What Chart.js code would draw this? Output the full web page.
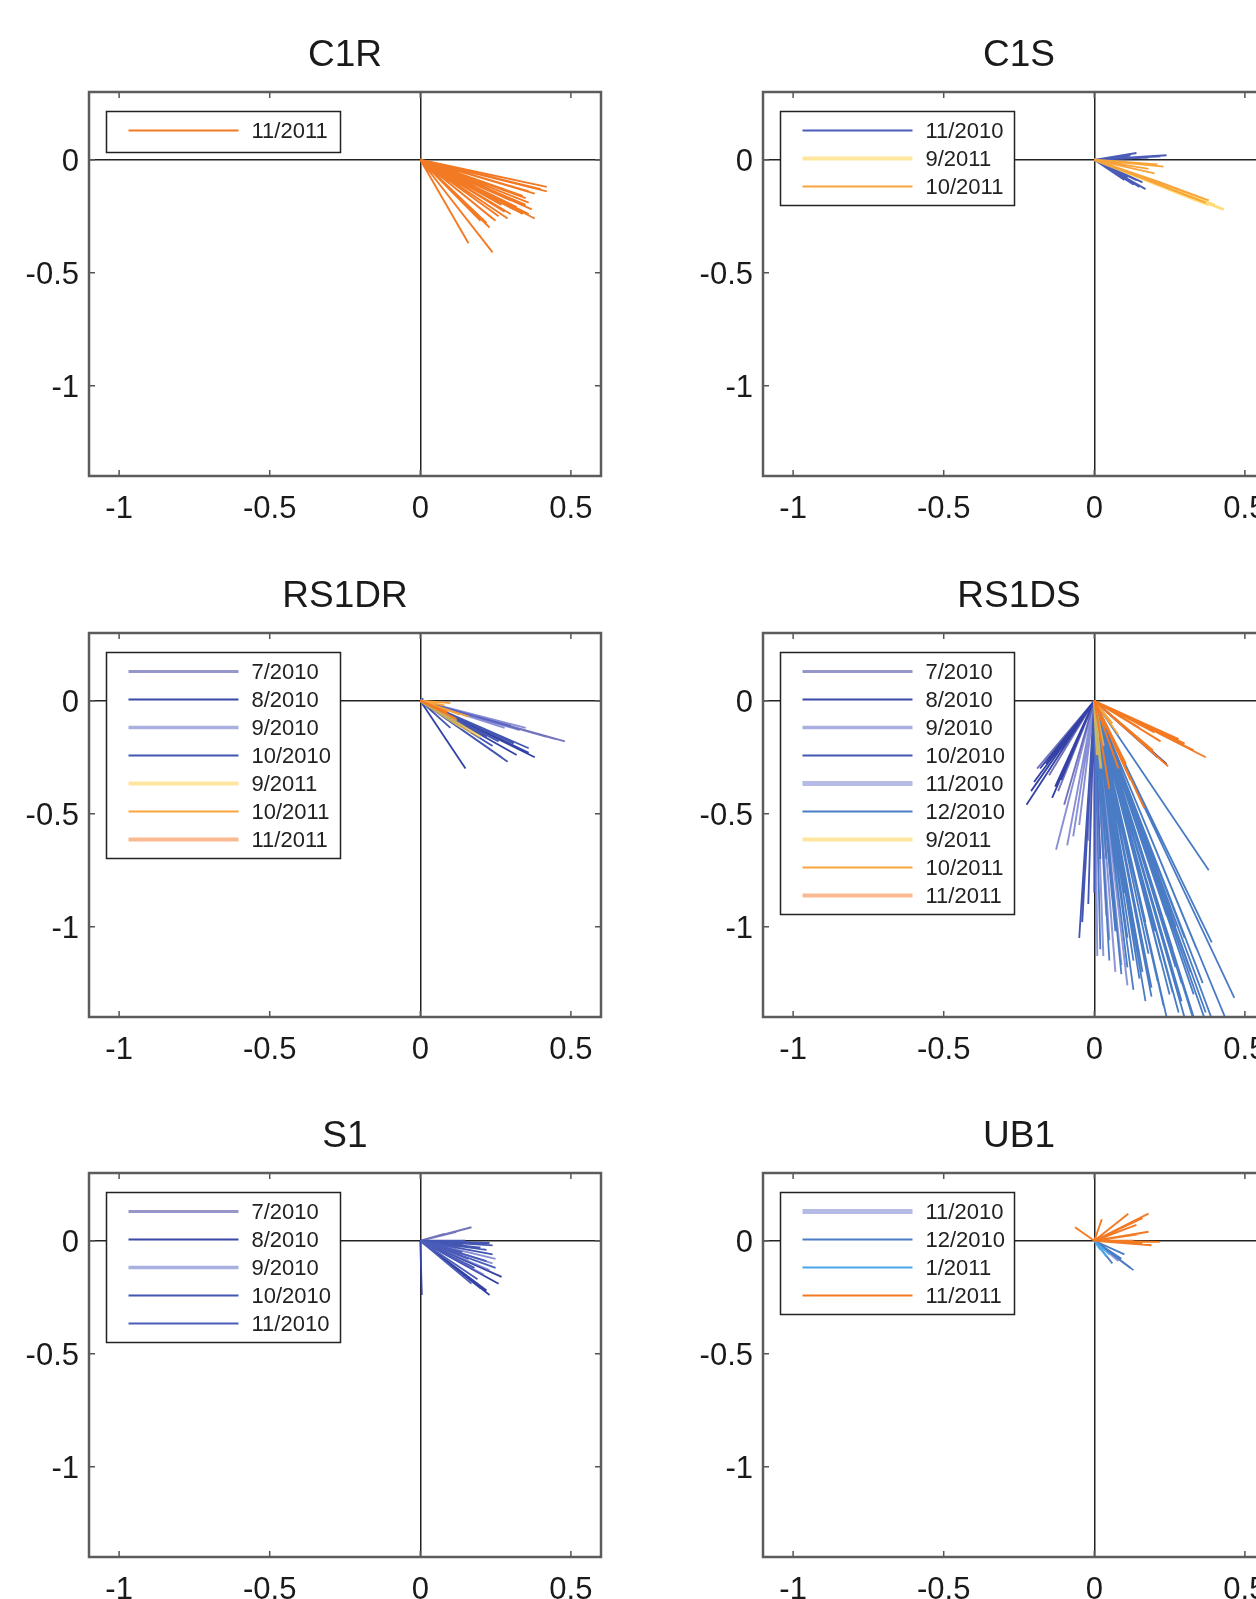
<!DOCTYPE html>
<html>
<head>
<meta charset="utf-8">
<script src="https://cdn.jsdelivr.net/npm/chart.js@4.4.1/dist/chart.umd.min.js"></script>
<style>
  html, body { margin: 0; padding: 0; background: #fff; width: 1256px; height: 1599px; overflow: hidden; }
  .panel { position: absolute; }
</style>
</head>
<body>
<div class="panel" style="left:0px;top:0px"><canvas id="c1r" width="615" height="521"></canvas></div>
<div class="panel" style="left:674px;top:0px"><canvas id="c1s" width="615" height="521"></canvas></div>
<div class="panel" style="left:0px;top:541px"><canvas id="rs1dr" width="615" height="521"></canvas></div>
<div class="panel" style="left:674px;top:541px"><canvas id="rs1ds" width="615" height="521"></canvas></div>
<div class="panel" style="left:0px;top:1081px"><canvas id="s1" width="615" height="521"></canvas></div>
<div class="panel" style="left:674px;top:1081px"><canvas id="ub1" width="615" height="521"></canvas></div>
<script>
// axis ticks shared by every panel
const xTicks = [-1, -0.5, 0, 0.5]
const yTicks = [-1, -0.5, 0]

// vector tips [east, north]; each stick is drawn from the origin to the tip
const c1rNov2011 = [[0.42,-0.12],[0.42,-0.14],[0.40,-0.13],[0.38,-0.15],[0.36,-0.14],[0.35,-0.17],[0.34,-0.16],[0.36,-0.19],[0.35,-0.20],[0.33,-0.19],[0.32,-0.21],[0.37,-0.22],[0.38,-0.26],[0.34,-0.24],[0.31,-0.22],[0.30,-0.24],[0.28,-0.23],[0.29,-0.26],[0.26,-0.25],[0.25,-0.27],[0.24,-0.26],[0.22,-0.28],[0.23,-0.30],[0.20,-0.27],[0.24,-0.41],[0.16,-0.37],[0.27,-0.20],[0.30,-0.18],[0.25,-0.17],[0.36,-0.24]]

const c1sNov2010 = [[0.24,0.02],[0.22,0.015],[0.14,0.03],[0.12,0.02],[0.18,0.01],[0.10,0.01],[0.08,0.005],[0.11,-0.08],[0.12,-0.10],[0.13,-0.11],[0.15,-0.12],[0.17,-0.13],[0.10,-0.09],[0.09,-0.07],[0.14,-0.09],[0.16,-0.10],[0.06,-0.04]]
const c1sSep2011 = [[0.43,-0.22],[0.41,-0.21],[0.40,-0.20],[0.38,-0.20],[0.36,-0.19],[0.34,-0.18]]
const c1sOct2011 = [[0.38,-0.18],[0.36,-0.17],[0.34,-0.16],[0.32,-0.15],[0.30,-0.14],[0.28,-0.13],[0.35,-0.18],[0.33,-0.17],[0.26,-0.12],[0.24,-0.11],[0.22,-0.10],[0.23,-0.03],[0.21,-0.02],[0.18,-0.04],[0.20,-0.06],[0.37,-0.19],[0.31,-0.16]]

const rs1drJul2010 = [[0.48,-0.18],[0.45,-0.17],[0.42,-0.16],[0.40,-0.15]]
const rs1drAug2010 = [[0.38,-0.25],[0.36,-0.23],[0.34,-0.22],[0.32,-0.24],[0.15,-0.30]]
const rs1drSep2010 = [[0.35,-0.12],[0.33,-0.13],[0.30,-0.11],[0.28,-0.12]]
const rs1drOct2010 = [[0.29,-0.27],[0.27,-0.25],[0.36,-0.21],[0.31,-0.19],[0.26,-0.18],[0.24,-0.20],[0.22,-0.16],[0.10,-0.12],[0.01,0.01]]
const rs1drSep2011 = [[0.20,-0.16],[0.17,-0.14],[0.14,-0.12],[0.12,-0.09]]
const rs1drOct2011 = [[0.10,-0.01],[0.08,-0.02],[0.16,-0.07],[0.13,-0.06]]
const rs1drNov2011 = [[0.12,-0.08],[0.09,-0.05]]

const rs1dsJul2010 = [[-0.19,-0.30],[-0.17,-0.27],[-0.15,-0.33],[-0.12,-0.40],[-0.10,-0.46]]
const rs1dsAug2010 = [[-0.225,-0.46],[-0.21,-0.40],[-0.20,-0.36],[-0.18,-0.30],[-0.16,-0.28],[-0.14,-0.43],[-0.13,-0.38],[-0.11,-0.35],[0.24,-0.28],[0.21,-0.25]]
const rs1dsSep2010 = [[-0.127,-0.66],[-0.09,-0.64],[-0.07,-0.60],[-0.05,-0.55],[-0.02,-0.62]]
const rs1dsOct2010 = [[-0.05,-1.05],[-0.04,-0.98],[-0.02,-0.90],[-0.03,-0.75],[0.00,-0.85],[0.02,-0.70]]
const rs1dsNov2010 = [[0.01,-1.13],[0.03,-1.13],[0.05,-1.06],[0.07,-1.20],[0.09,-1.17],[0.11,-1.26],[0.04,-0.95]]
const rs1dsDec2010 = [[0.02,-1.10],[0.05,-1.15],[0.07,-1.02],[0.09,-1.21],[0.11,-1.18],[0.13,-1.28],[0.15,-1.23],[0.17,-1.33],[0.19,-1.27],[0.21,-1.24],[0.23,-1.35],[0.25,-1.30],[0.26,-1.29],[0.28,-1.38],[0.29,-1.33],[0.31,-1.45],[0.33,-1.40],[0.35,-1.50],[0.38,-1.46],[0.41,-1.48],[0.465,-1.315],[0.39,-1.07],[0.38,-0.75],[0.34,-1.10],[0.30,-1.05],[0.27,-1.00],[0.24,-0.95],[0.20,-1.02],[0.17,-0.98],[0.14,-1.08],[0.12,-0.92],[0.10,-0.85],[0.08,-0.78],[0.06,-0.88],[0.04,-0.70],[0.22,-1.15],[0.18,-1.12],[0.36,-1.25],[0.32,-1.20],[0.27,-1.18],[0.16,-1.20],[0.19,-1.31],[0.24,-1.40],[0.13,-1.15],[0.11,-1.05],[0.29,-1.25],[0.33,-1.30],[0.26,-1.10],[0.37,-1.38],[0.44,-1.42]]
const rs1dsSep2011 = [[0.022,-0.30],[0.01,-0.24],[0.03,-0.20],[0.015,-0.16]]
const rs1dsOct2011 = [[0.06,-0.10],[0.08,-0.15],[0.04,-0.12],[0.10,-0.08]]
const rs1dsNov2011 = [[0.37,-0.25],[0.33,-0.22],[0.30,-0.19],[0.28,-0.17],[0.245,-0.29],[0.195,-0.22],[0.22,-0.18],[0.17,-0.20],[0.166,-0.475],[0.14,-0.40],[0.105,-0.28],[0.12,-0.35],[0.05,-0.39],[0.08,-0.30],[0.15,-0.12],[0.20,-0.14]]

const s1Jul2010 = [[0.17,0.06],[0.12,0.04],[0.08,0.03]]
const s1Aug2010 = [[0.23,-0.24],[0.22,-0.22],[0.20,-0.21],[0.26,-0.19],[0.27,-0.16],[0.005,-0.24]]
const s1Sep2010 = [[0.25,-0.08],[0.24,-0.10],[0.23,-0.13],[0.21,-0.15]]
const s1Oct2010 = [[0.24,-0.02],[0.23,-0.01],[0.22,-0.04],[0.24,-0.06],[0.20,-0.03],[0.18,-0.01],[0.15,0.00]]
const s1Nov2010 = [[0.25,-0.12],[0.22,-0.09],[0.19,-0.17],[0.18,-0.12],[0.16,-0.08],[0.14,-0.05],[0.17,-0.19],[0.12,-0.03]]

const ub1Nov2010 = [[0.12,-0.12],[0.10,-0.10],[0.08,-0.09]]
const ub1Dec2010 = [[0.13,-0.13],[0.11,-0.11],[0.09,-0.08],[0.07,-0.07],[0.10,-0.06],[0.06,-0.10]]
const ub1Jan2011 = [[0.03,-0.05],[0.04,-0.07],[0.02,-0.04],[0.05,-0.06]]
const ub1Nov2011 = [[0.18,0.12],[0.16,0.10],[0.113,0.12],[0.14,0.07],[0.12,0.06],[0.025,0.095],[-0.064,0.06],[0.18,0.04],[0.15,0.03],[0.218,-0.005],[0.19,-0.02],[0.16,-0.01],[0.10,0.02],[0.08,0.05],[0.13,0.00],[0.06,0.03]]

// line looks (plot colour/width, legend colour/width)
const sty = {
  jul10: { c: 'rgba(70,70,165,0.75)', w: 1.9, lc: 'rgba(80,80,165,0.6)', lw: 3 },
  aug10: { c: '#3442a6', w: 1.8, lc: '#3a48a8', lw: 2 },
  sep10: { c: 'rgba(85,95,195,0.7)', w: 1.9, lc: 'rgba(100,110,200,0.55)', lw: 3.5 },
  oct10: { c: '#4356b2', w: 1.8, lc: '#4356b2', lw: 2 },
  nov10: { c: 'rgba(95,105,200,0.7)', w: 2, lc: 'rgba(110,120,205,0.5)', lw: 5 },
  nov10b: { c: '#4a5cb8', w: 1.8, lc: '#4a5cb8', lw: 2 },
  dec10: { c: '#4a7cc6', w: 1.8, lc: '#4a7cc6', lw: 2 },
  jan11: { c: '#4aa6e6', w: 1.8, lc: '#4aa6e6', lw: 2 },
  sep11: { c: 'rgba(255,205,60,0.7)', w: 2.8, lc: 'rgba(255,210,80,0.55)', lw: 4 },
  oct11: { c: '#f8a43a', w: 1.8, lc: '#f8a43a', lw: 2 },
  nov11: { c: '#f37a24', w: 1.9, lc: '#f37a24', lw: 2 },
  nov11b: { c: '#f47a22', w: 1.9, lc: 'rgba(245,130,55,0.55)', lw: 4 }
}

const panels = [
  { id: 'c1r', title: 'C1R', months: [
    ['11/2011', c1rNov2011, sty.nov11]
  ] },
  { id: 'c1s', title: 'C1S', months: [
    ['11/2010', c1sNov2010, sty.nov10b],
    ['9/2011', c1sSep2011, sty.sep11],
    ['10/2011', c1sOct2011, sty.oct11]
  ] },
  { id: 'rs1dr', title: 'RS1DR', months: [
    ['7/2010', rs1drJul2010, sty.jul10],
    ['8/2010', rs1drAug2010, sty.aug10],
    ['9/2010', rs1drSep2010, sty.sep10],
    ['10/2010', rs1drOct2010, sty.oct10],
    ['9/2011', rs1drSep2011, sty.sep11],
    ['10/2011', rs1drOct2011, sty.oct11],
    ['11/2011', rs1drNov2011, sty.nov11b]
  ] },
  { id: 'rs1ds', title: 'RS1DS', months: [
    ['7/2010', rs1dsJul2010, sty.jul10],
    ['8/2010', rs1dsAug2010, sty.aug10],
    ['9/2010', rs1dsSep2010, sty.sep10],
    ['10/2010', rs1dsOct2010, sty.oct10],
    ['11/2010', rs1dsNov2010, sty.nov10],
    ['12/2010', rs1dsDec2010, sty.dec10],
    ['9/2011', rs1dsSep2011, sty.sep11],
    ['10/2011', rs1dsOct2011, sty.oct11],
    ['11/2011', rs1dsNov2011, sty.nov11b]
  ] },
  { id: 's1', title: 'S1', months: [
    ['7/2010', s1Jul2010, sty.jul10],
    ['8/2010', s1Aug2010, sty.aug10],
    ['9/2010', s1Sep2010, sty.sep10],
    ['10/2010', s1Oct2010, sty.oct10],
    ['11/2010', s1Nov2010, sty.nov10b]
  ] },
  { id: 'ub1', title: 'UB1', months: [
    ['11/2010', ub1Nov2010, sty.nov10],
    ['12/2010', ub1Dec2010, sty.dec10],
    ['1/2011', ub1Jan2011, sty.jan11],
    ['11/2011', ub1Nov2011, sty.nov11]
  ] }
]

const font = '"Liberation Sans", Arial, Helvetica, sans-serif'

// sticks: origin -> tip, with a null point between them so the line breaks
function sticks(tips) {
  const pts = []
  tips.forEach(t => {
    pts.push({ x: 0, y: 0 }, { x: t[0], y: t[1] }, { x: 0, y: null })
  })
  return pts
}

// title over the plot box, frame, inward ticks (matlab look) and the boxed legend
const boxPlugin = {
  id: 'box',
  afterDraw(chart, args, opts) {
    const { ctx, chartArea: a, scales } = chart
    ctx.save()
    ctx.fillStyle = '#1a1a1a'
    ctx.font = '37px ' + font
    ctx.textAlign = 'center'
    ctx.textBaseline = 'middle'
    ctx.fillText(opts.title, (a.left + a.right) / 2, 56)

    ctx.strokeStyle = '#555'
    ctx.lineWidth = 1.5
    ctx.beginPath()
    xTicks.forEach(v => {
      const px = scales.x.getPixelForValue(v)
      ctx.moveTo(px, a.top); ctx.lineTo(px, a.top + 6)
      ctx.moveTo(px, a.bottom); ctx.lineTo(px, a.bottom - 6)
    })
    yTicks.forEach(v => {
      const py = scales.y.getPixelForValue(v)
      ctx.moveTo(a.left, py); ctx.lineTo(a.left + 6, py)
      ctx.moveTo(a.right, py); ctx.lineTo(a.right - 6, py)
    })
    ctx.stroke()
    ctx.strokeStyle = '#5c5c5c'
    ctx.lineWidth = 2.5
    ctx.strokeRect(a.left, a.top, a.width, a.height)

    const sets = chart.data.datasets
    const bx = a.left + 17.5
    const by = a.top + 19.5
    const bh = sets.length * 28 + (sets.length === 1 ? 13 : 10)
    ctx.fillStyle = '#fff'
    ctx.fillRect(bx, by, 234, bh)
    ctx.strokeStyle = '#222'
    ctx.lineWidth = 1.5
    ctx.strokeRect(bx, by, 234, bh)
    ctx.font = '22px ' + font
    ctx.textAlign = 'left'
    sets.forEach((ds, i) => {
      const yy = by + 19 + i * 28
      ctx.strokeStyle = ds.legendColor
      ctx.lineWidth = ds.legendWidth
      ctx.beginPath()
      ctx.moveTo(bx + 22, yy); ctx.lineTo(bx + 132, yy)
      ctx.stroke()
      ctx.fillStyle = '#222'
      ctx.fillText(ds.label, bx + 145, yy + 1)
    })
    ctx.restore()
  }
}

function zeroLine(c) {
  return c.tick && c.tick.value === 0 ? '#222' : 'rgba(0,0,0,0)'
}

panels.forEach(p => {
  const n = p.months.length
  const datasets = p.months.map((m, i) => ({
    label: m[0],
    data: sticks(m[1]),
    borderColor: m[2].c,
    borderWidth: m[2].w,
    legendColor: m[2].lc,
    legendWidth: m[2].lw,
    showLine: true,
    spanGaps: false,
    pointRadius: 0,
    pointHoverRadius: 0,
    tension: 0,
    clip: 0,
    order: n - i
  }))

  new Chart(document.getElementById(p.id).getContext('2d'), {
    type: 'scatter',
    data: { datasets: datasets },
    options: {
      responsive: false,
      animation: false,
      events: [],
      layout: { padding: { right: 14, bottom: 0, left: 0, top: 92 } },
      plugins: {
        legend: { display: false },
        tooltip: { enabled: false },
        title: { display: false },
        box: { title: p.title }
      },
      scales: {
        x: {
          type: 'linear',
          min: -1.1,
          max: 0.6,
          border: { display: false },
          grid: { color: zeroLine, lineWidth: 1.5, drawTicks: false },
          ticks: {
            color: '#1a1a1a',
            padding: 15,
            maxRotation: 0,
            font: { family: font, size: 31 },
            callback: v => String(v)
          },
          afterBuildTicks: s => { s.ticks = xTicks.map(v => ({ value: v })) },
          afterFit: s => { s.height = 45; s.paddingLeft = 0; s.paddingRight = 0 }
        },
        y: {
          type: 'linear',
          min: -1.4,
          max: 0.3,
          border: { display: false },
          grid: { color: zeroLine, lineWidth: 1.5, drawTicks: false },
          ticks: {
            color: '#1a1a1a',
            padding: 10,
            labelOffset: 3,
            font: { family: font, size: 31 },
            callback: v => String(v)
          },
          afterBuildTicks: s => { s.ticks = yTicks.map(v => ({ value: v })) },
          afterFit: s => { s.width = 89; s.paddingTop = 0; s.paddingBottom = 0 }
        }
      }
    },
    plugins: [boxPlugin]
  })
})
</script>
</body>
</html>
